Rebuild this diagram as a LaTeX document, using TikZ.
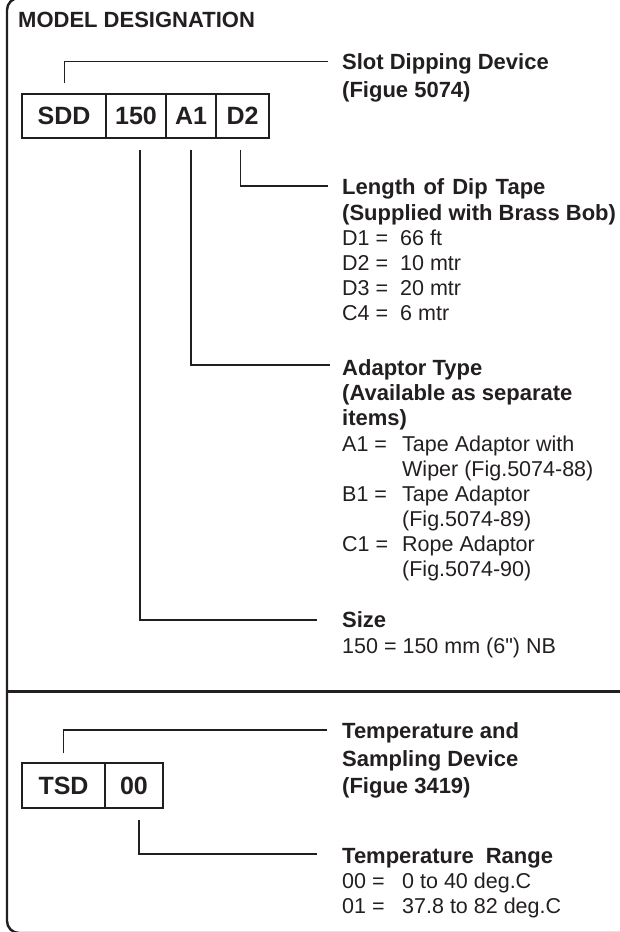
\documentclass[tikz,border=0pt]{standalone}
\usepackage{fontspec}
\newfontfamily\labelfont{Liberation Sans}
\usetikzlibrary{positioning}
\definecolor{ink}{HTML}{231F20}
\tikzset{
  cell/.style = {draw=ink, line width=1.6pt, text=ink, inner sep=0pt, outer sep=0pt,
    minimum height=44pt, font=\labelfont\bfseries\fontsize{25}{30}\selectfont},
  head/.style = {anchor=base west, inner sep=0pt, text=ink,
    font=\labelfont\bfseries\fontsize{22}{26}\selectfont},
  item/.style = {anchor=base west, inner sep=0pt, text=ink,
    font=\labelfont\fontsize{21.5}{25}\selectfont},
  leader/.style = {draw=ink, line width=1.8pt}
}
\tikzset{>=latex}

\begin{document}
\begin{tikzpicture}[x=1pt,y=-1pt]
  \pgfmathsetmacro{\textx}{342}
  \useasboundingbox (0,0) rectangle (620,932);
  % frame
  \draw[ink, line width=2.4pt, rounded corners=12pt] (7,-2) rectangle (640,933);
  \draw[ink, line width=3pt] (7,691) -- (640,691);
  % title
  \node[head] (title) at (18,27) {MODEL DESIGNATION};
  % slot dipping device
  \node[cell, minimum width=84pt, anchor=north west] (sdd) at (22,94) {SDD};
  \node[cell, minimum width=60pt, right=0pt of sdd] (n150) {150};
  \node[cell, minimum width=50pt, right=0pt of n150] (a1) {A1};
  \node[cell, minimum width=53pt, right=0pt of a1] (d2) {D2};
  \node[head] (slot) at (\textx,69) {Slot Dipping Device};
  \node[head] (slotfig) at (\textx,97) {(Figue 5074)};
  % dip tape
  \node[head] (tape) at (\textx,194) {Length\hspace{8pt}of\hspace{8pt}Dip\hspace{8pt}Tape};
  \node[head] (tapebob) at (\textx,220) {(Supplied with Brass Bob)};
  \foreach \key/\val [count=\i from 0] in {D1 =/66 ft, D2 =/10 mtr, D3 =/20 mtr, C4 =/6 mtr}
    \node[item] (tape\i) at (\textx,245+25*\i) {\makebox[58pt][l]{\key}\val};
  % adaptor
  \node[head] (adaptor) at (\textx,375) {Adaptor Type};
  \node[head] (adaptoravail) at (\textx,400) {(Available as separate};
  \node[head] (adaptoritems) at (\textx,425) {items)};
  \foreach \key/\val [count=\i from 0] in {A1 =/Tape Adaptor with, /Wiper (Fig.5074-88),
      B1 =/Tape Adaptor, /(Fig.5074-89), C1 =/Rope Adaptor, /(Fig.5074-90)}
    \node[item] (adaptor\i) at (\textx,451+25*\i) {\makebox[60pt][l]{\key}\val};
  % size
  \node[head] (size) at (\textx,627) {Size};
  \node[item] (size0) at (\textx,653) {150 = 150 mm (6") NB};
  % temperature and sampling device
  \node[cell, minimum width=83pt, minimum height=45pt, anchor=north west] (tsd) at (22,763) {TSD};
  \node[cell, minimum width=58pt, minimum height=45pt, right=0pt of tsd] (n00) {00};
  \node[head] (temp) at (\textx,738) {Temperature and};
  \node[head] (tempdev) at (\textx,766) {Sampling Device};
  \node[head] (tempfig) at (\textx,793) {(Figue 3419)};
  \node[head] (range) at (\textx,863) {Temperature\hspace{12pt}Range};
  \foreach \key/\val [count=\i from 0] in {00 =/0 to 40 deg.C, 01 =/37.8 to 82 deg.C}
    \node[item] (range\i) at (\textx,888+25*\i) {\makebox[60pt][l]{\key}\val};
  % leaders
  \draw[ink, line width=1pt] ([yshift=11pt]sdd.north) |- ([xshift=-14pt,yshift=8pt]slot.base west);
  \draw[leader] ([xshift=-2pt,yshift=-12pt]d2.south) |- ([xshift=-14pt,yshift=8pt]tape.base west);
  \draw[leader] ([yshift=-12pt]a1.south) |- ([xshift=-12pt,yshift=10pt]adaptor.base west);
  \draw[leader] ([xshift=4pt,yshift=-12pt]n150.south) |- ([xshift=-25pt,yshift=7pt]size.base west);
  \draw[leader] ([yshift=10pt]tsd.north) |- ([xshift=-15pt,yshift=8pt]temp.base west);
  \draw[leader] ([xshift=5pt,yshift=-12pt]n00.south) |- ([xshift=-25pt,yshift=9pt]range.base west);
\end{tikzpicture}
\end{document}
